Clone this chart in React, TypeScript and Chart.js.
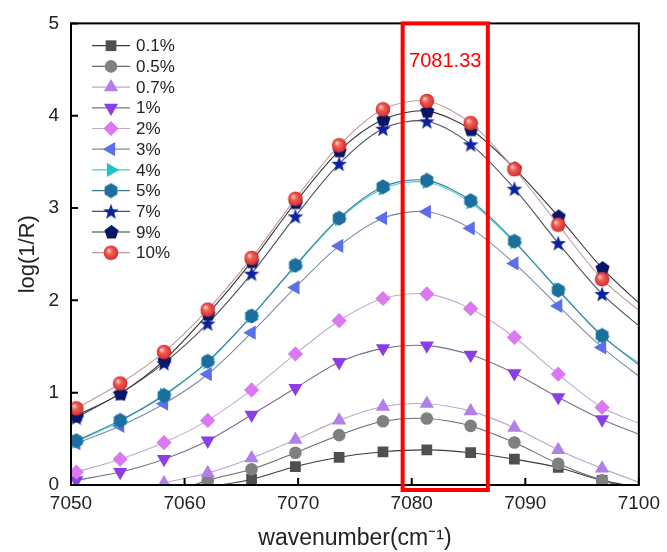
import React, { useEffect, useRef } from 'react';
import { Chart, registerables } from 'chart.js';
import { drawPoint } from 'chart.js/helpers';

Chart.register(...registerables);

// ---- data ----
const wavenumbers = [7050.47, 7054.33, 7058.19, 7062.04, 7065.9, 7069.76, 7073.61, 7077.47, 7081.33, 7085.19, 7089.04, 7092.9, 7096.76, 7100.62];
const seriesLabels = ['0.1%', '0.5%', '0.7%', '1%', '2%', '3%', '4%', '5%', '7%', '9%', '10%'];
const s01 = [-0.3, -0.2, -0.1, -0.02, 0.06, 0.2, 0.3, 0.36, 0.38, 0.35, 0.28, 0.19, 0.05, -0.04];
const s05 = [-0.45, -0.28, -0.12, 0.05, 0.17, 0.35, 0.54, 0.69, 0.72, 0.64, 0.46, 0.23, 0.05, -0.08];
const s07 = [-0.3, -0.13, 0.02, 0.13, 0.29, 0.49, 0.7, 0.85, 0.88, 0.8, 0.62, 0.38, 0.18, 0.0];
const s1 = [0.05, 0.14, 0.28, 0.48, 0.76, 1.05, 1.33, 1.48, 1.51, 1.41, 1.21, 0.95, 0.71, 0.52];
const s2 = [0.14, 0.28, 0.46, 0.7, 1.03, 1.42, 1.78, 2.02, 2.07, 1.91, 1.6, 1.2, 0.84, 0.64];
const s3 = [0.45, 0.64, 0.88, 1.2, 1.65, 2.14, 2.59, 2.89, 2.96, 2.78, 2.4, 1.94, 1.49, 1.12];
const s4 = [0.47, 0.69, 0.98, 1.33, 1.83, 2.37, 2.88, 3.21, 3.28, 3.06, 2.63, 2.12, 1.61, 1.27];
const s5 = [0.48, 0.7, 0.97, 1.34, 1.83, 2.38, 2.89, 3.23, 3.3, 3.08, 2.64, 2.11, 1.62, 1.24];
const s7 = [0.73, 0.99, 1.32, 1.75, 2.29, 2.91, 3.48, 3.86, 3.94, 3.69, 3.21, 2.62, 2.07, 1.66];
const s9 = [0.75, 0.99, 1.35, 1.85, 2.42, 3.06, 3.62, 3.96, 4.05, 3.85, 3.43, 2.91, 2.35, 1.9];
const s10 = [0.83, 1.1, 1.44, 1.9, 2.46, 3.1, 3.68, 4.07, 4.16, 3.92, 3.42, 2.82, 2.23, 1.83];
const seriesValues = [s01, s05, s07, s1, s2, s3, s4, s5, s7, s9, s10];

const xTickStep = 10;
const yTickStep = 1;
const highlightLabel = '7081.33';
const boxStart = 7079.2;
const boxEnd = 7086.7;

const FONT = '"Liberation Sans", Arial, Helvetica, sans-serif';
const TEXT = '#222222';

function makeMarker(size: number, paint: (ctx: CanvasRenderingContext2D, c: number) => void) {
  const cv = document.createElement('canvas');
  cv.width = size;
  cv.height = size;
  const ctx = cv.getContext('2d')!;
  paint(ctx, size / 2);
  return cv;
}

function polygon(ctx: CanvasRenderingContext2D, c: number, r: number, n: number) {
  ctx.beginPath();
  for (let i = 0; i < n; i++) {
    const a = -Math.PI / 2 + (i * 2 * Math.PI) / n;
    const px = c + r * Math.cos(a);
    const py = c + r * Math.sin(a);
    if (i === 0) ctx.moveTo(px, py);
    else ctx.lineTo(px, py);
  }
  ctx.closePath();
}

export default function App() {
  const ref = useRef<HTMLCanvasElement>(null);

  useEffect(() => {
    document.body.style.margin = '0';
    if (!ref.current) return;

    const hexagon = makeMarker(16, (ctx, c) => {
      polygon(ctx, c, 7.4, 6);
      ctx.fillStyle = '#1c6e9e';
      ctx.fill();
    });
    const pentagon = makeMarker(16, (ctx, c) => {
      polygon(ctx, c + 0.5, 7.4, 5);
      ctx.fillStyle = '#0b1565';
      ctx.fill();
    });
    const star = makeMarker(18, (ctx, c) => {
      ctx.beginPath();
      for (let i = 0; i < 10; i++) {
        const r = i % 2 === 0 ? 8.3 : 3.4;
        const a = -Math.PI / 2 + (i * Math.PI) / 5;
        const px = c + r * Math.cos(a);
        const py = c + 0.8 + r * Math.sin(a);
        if (i === 0) ctx.moveTo(px, py);
        else ctx.lineTo(px, py);
      }
      ctx.closePath();
      ctx.fillStyle = '#0a22a0';
      ctx.fill();
    });
    const sphere = makeMarker(16, (ctx, c) => {
      const g = ctx.createRadialGradient(c - 2.5, c - 2.5, 0.5, c, c, 7.5);
      g.addColorStop(0, '#ffd0c8');
      g.addColorStop(0.35, '#f06058');
      g.addColorStop(0.8, '#e03a36');
      g.addColorStop(1, '#b82a28');
      ctx.beginPath();
      ctx.arc(c, c, 7.3, 0, Math.PI * 2);
      ctx.fillStyle = g;
      ctx.fill();
    });

    const styles: any[] = [
      { color: '#4f4f4f', line: '#3c3c3c', pointStyle: 'rect', radius: 7.6, rotation: 0 },
      { color: '#808080', line: '#6a6a6a', pointStyle: 'circle', radius: 6.3, rotation: 0 },
      { color: '#b07fe8', line: '#b9a8cc', pointStyle: 'triangle', radius: 8.2, rotation: 0 },
      { color: '#8b3ee8', line: '#7c6c94', pointStyle: 'triangle', radius: 8.2, rotation: 180 },
      { color: '#dc78f2', line: '#c2a9cf', pointStyle: 'rectRot', radius: 7.6, rotation: 0 },
      { color: '#5a6fe8', line: '#7d8aa8', pointStyle: 'triangle', radius: 8.2, rotation: -90 },
      { color: '#22c2c8', line: '#45cfd6', pointStyle: 'triangle', radius: 8.2, rotation: 90 },
      { color: '#1c6e9e', line: '#3a7f96', pointStyle: hexagon, radius: 7, rotation: 0 },
      { color: '#0a22a0', line: '#4e5062', pointStyle: star, radius: 7, rotation: 0 },
      { color: '#0b1565', line: '#34343e', pointStyle: pentagon, radius: 7, rotation: 0 },
      { color: '#e83c3a', line: '#c49a92', pointStyle: sphere, radius: 7, rotation: 0 },
    ];

    const frameAndBox = {
      id: 'frameAndBox',
      afterDatasetsDraw(chart: any) {
        const { ctx, chartArea, scales } = chart;
        const { left, right, top, bottom } = chartArea;
        const xs = scales.x;
        const ys = scales.y;
        ctx.save();
        ctx.strokeStyle = '#000';
        ctx.lineWidth = 2;
        ctx.beginPath();
        xs.ticks.forEach((t: any) => {
          const px = xs.getPixelForValue(t.value);
          ctx.moveTo(px, bottom);
          ctx.lineTo(px, bottom - 7);
        });
        ys.ticks.forEach((t: any) => {
          const py = ys.getPixelForValue(t.value);
          ctx.moveTo(left, py);
          ctx.lineTo(left + 7, py);
        });
        ctx.stroke();
        ctx.strokeRect(left, top, right - left, bottom - top);
        ctx.restore();
      },
      afterDraw(chart: any) {
        const { ctx, chartArea, scales } = chart;
        const { left, top, bottom } = chartArea;
        const xs = scales.x;
        ctx.save();
        // highlight box
        const bx1 = xs.getPixelForValue(boxStart);
        const bx2 = xs.getPixelForValue(boxEnd);
        ctx.strokeStyle = '#ff0000';
        ctx.lineWidth = 4;
        ctx.strokeRect(bx1, top, bx2 - bx1, bottom - top + 5);
        ctx.fillStyle = '#ff0000';
        ctx.font = `20px ${FONT}`;
        ctx.textAlign = 'center';
        ctx.textBaseline = 'middle';
        ctx.fillText(highlightLabel, (bx1 + bx2) / 2, top + 38);

        // legend
        chart.data.datasets.forEach((ds: any, i: number) => {
          const st = styles[i];
          const y = top + 22.3 + i * 20.7;
          const x0 = left + 21;
          ctx.strokeStyle = ds.borderColor;
          ctx.lineWidth = 1.2;
          ctx.beginPath();
          ctx.moveTo(x0, y);
          ctx.lineTo(x0 + 38, y);
          ctx.stroke();
          ctx.fillStyle = st.color;
          ctx.strokeStyle = st.color;
          drawPoint(ctx, { pointStyle: st.pointStyle, rotation: st.rotation, radius: st.radius, borderWidth: 0 }, x0 + 19, y);
          ctx.fillStyle = TEXT;
          ctx.font = `17px ${FONT}`;
          ctx.textAlign = 'left';
          ctx.textBaseline = 'middle';
          ctx.fillText(ds.label, left + 65, y + 1);
        });
        ctx.restore();
      },
    };

    const chart = new Chart(ref.current, {
      type: 'line',
      data: {
        datasets: seriesLabels.map((label, i) => {
          const st = styles[i];
          return {
            label,
            data: wavenumbers.map((x, j) => ({ x, y: seriesValues[i][j] })),
            borderColor: st.line,
            backgroundColor: st.color,
            borderWidth: 1.1,
            tension: 0.3,
            pointStyle: st.pointStyle,
            pointRadius: st.radius,
            pointRotation: st.rotation,
            pointBackgroundColor: st.color,
            pointBorderColor: st.color,
            pointBorderWidth: 0,
            clip: 0,
            order: seriesLabels.length - i,
          } as any;
        }),
      },
      options: {
        responsive: false,
        animation: false,
        events: [],
        layout: { padding: { top: 21, right: 24, left: 0, bottom: 0 } },
        plugins: { legend: { display: false }, tooltip: { enabled: false } },
        scales: {
          x: {
            type: 'linear',
            min: 7050,
            max: 7100,
            ticks: {
              stepSize: xTickStep,
              color: TEXT,
              font: { family: FONT, size: 19 },
              padding: 7,
              maxRotation: 0,
              callback: (v: any) => String(v),
            },
            grid: { display: false, drawTicks: false },
            border: { display: false },
            title: {
              display: true,
              text: 'wavenumber(cm\u207B\u00B9)',
              color: TEXT,
              font: { family: FONT, size: 23 },
              padding: { top: 0, bottom: 0 },
            },
            afterFit: (s: any) => {
              s.height = 67;
            },
          },
          y: {
            min: 0,
            max: 5,
            ticks: {
              stepSize: yTickStep,
              color: TEXT,
              font: { family: FONT, size: 19 },
              padding: 12,
              callback: (v: any) => String(v),
            },
            grid: { display: false, drawTicks: false },
            border: { display: false },
            title: {
              display: true,
              text: 'log(1/R)',
              color: TEXT,
              font: { family: FONT, size: 22 },
              padding: { top: 15, bottom: 0 },
            },
            afterFit: (s: any) => {
              s.width = 71;
            },
          },
        },
      },
      plugins: [frameAndBox],
    } as any);

    return () => chart.destroy();
  }, []);

  return (
    <div style={{ width: 667, height: 552, background: '#fff' }}>
      <canvas ref={ref} width={667} height={552} style={{ display: 'block' }} />
    </div>
  );
}
